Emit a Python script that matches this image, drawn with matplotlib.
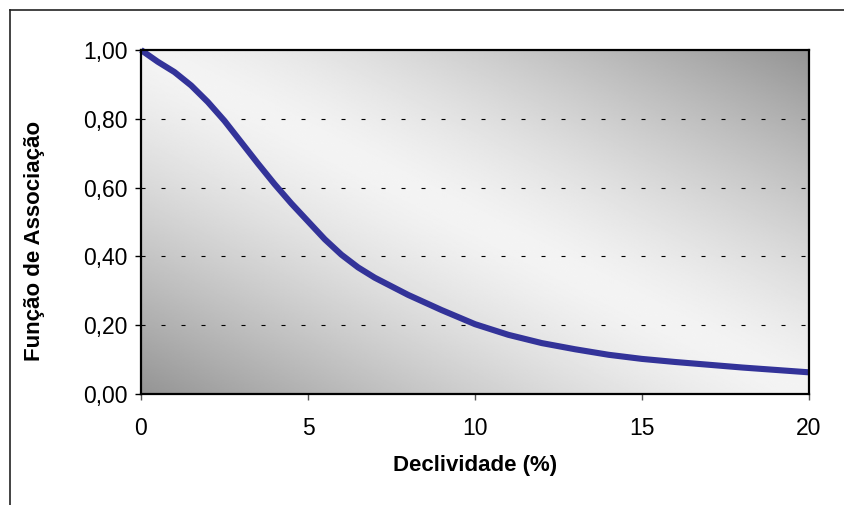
import numpy as np
import matplotlib.pyplot as plt
from matplotlib.lines import Line2D

plt.rcParams["font.family"] = ["Liberation Sans", "DejaVu Sans"]
plt.rcParams["lines.scale_dashes"] = False

# data
declividade = [0, 0.5, 1, 1.5, 2, 2.5, 3, 3.5, 4, 4.5, 5, 5.5, 6, 6.5, 7,
               8, 9, 10, 11, 12, 13, 14, 15, 16, 17, 18, 19, 20]
associacao = [1.00, 0.966, 0.936, 0.897, 0.849, 0.794, 0.732, 0.670, 0.610,
              0.554, 0.502, 0.450, 0.405, 0.368, 0.338, 0.288, 0.244, 0.203,
              0.172, 0.148, 0.130, 0.114, 0.102, 0.093, 0.085, 0.077, 0.070,
              0.063]
xticks = [0, 5, 10, 15, 20]
yticks = [0.0, 0.2, 0.4, 0.6, 0.8, 1.0]
ytick_labels = ["0,00", "0,20", "0,40", "0,60", "0,80", "1,00"]

fig = plt.figure(figsize=(8.45, 5.05), dpi=100)
ax = fig.add_axes([141 / 845, 1 - 394 / 505, 668 / 845, 344 / 505])

# diagonal gradient background (light along top-left -> bottom-right)
u = np.linspace(0, 1, 400)
v = np.linspace(0, 1, 300)
U, V = np.meshgrid(u, v)
d = np.abs(U - V)
light, dark = 0.955, 0.58
shade = light - (light - dark) * d ** 1.35
ax.imshow(shade, cmap="gray", vmin=0, vmax=1, extent=[0, 20, 0, 1],
          aspect="auto", origin="upper", zorder=0, interpolation="bilinear")

for yv in yticks[1:-1]:
    ax.axhline(yv, color="black", lw=0.8, linestyle=(0, (2.9, 11.5)), zorder=1)

ax.plot(declividade, associacao, color="#333399", lw=4.4,
        solid_joinstyle="round", solid_capstyle="butt", zorder=3,
        clip_on=False)

ax.set_xlim(0, 20)
ax.set_ylim(0, 1)
ax.set_xticks(xticks)
ax.set_xticklabels([str(t) for t in xticks])
ax.set_yticks(yticks)
ax.set_yticklabels(ytick_labels)
ax.tick_params(axis="both", labelsize=16.5, length=4.5, width=1, direction="out")
ax.tick_params(axis="x", pad=12, color="#555555")
ax.tick_params(axis="y", pad=5)
for s in ax.spines.values():
    s.set_linewidth(1.6)
    s.set_color("black")
    s.set_zorder(4)

fig.text(475 / 845, 1 - 466 / 505, "Declividade (%)", ha="center", va="center",
         fontsize=16, fontweight="bold")
fig.text(35 / 845, 1 - 241 / 505, "Função de Associação", ha="center",
         va="center", rotation=90, fontsize=16, fontweight="bold")

# outer chart frame (left and top edges visible)
fig.add_artist(Line2D([10 / 845, 10 / 845], [0, 1 - 10 / 505],
                      transform=fig.transFigure, color="#222222", lw=1.2))
fig.add_artist(Line2D([10 / 845, 1], [1 - 10 / 505, 1 - 10 / 505],
                      transform=fig.transFigure, color="#222222", lw=1.2))

fig.savefig("out.png", dpi=100)
